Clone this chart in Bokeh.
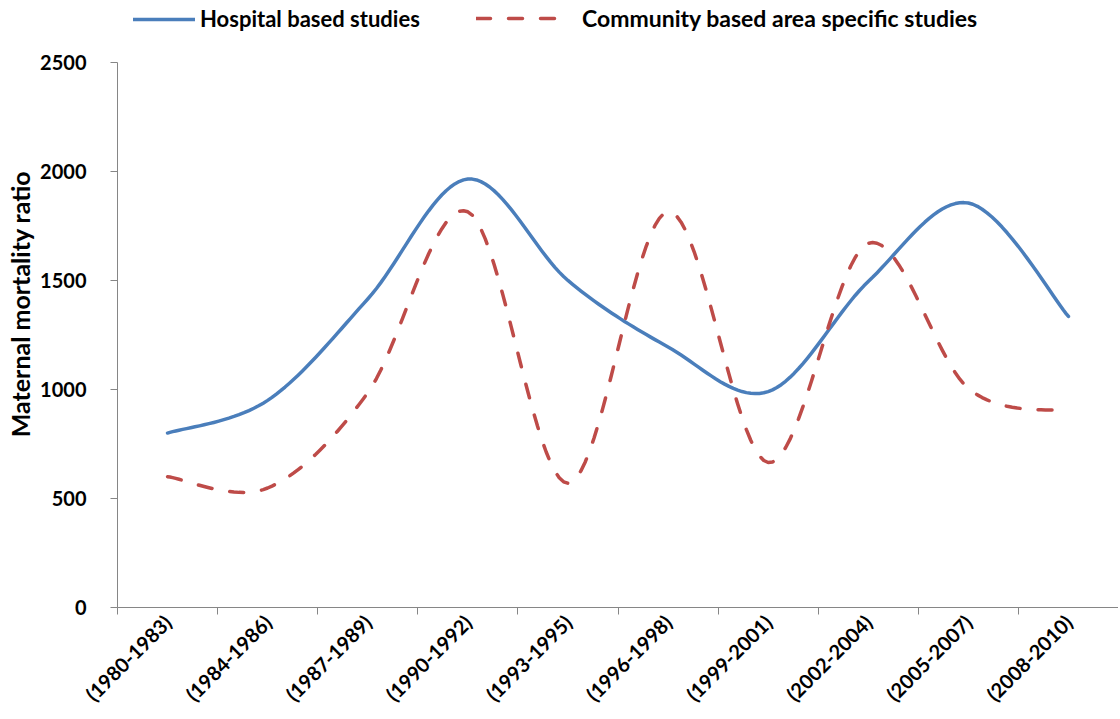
import numpy as np
from bokeh.plotting import figure
from bokeh.models import FixedTicker, Legend, LegendItem, Range1d
from bokeh.embed import file_html
from bokeh.resources import INLINE

periods = ["(1980-1983)", "(1984-1986)", "(1987-1989)", "(1990-1992)", "(1993-1995)",
           "(1996-1998)", "(1999-2001)", "(2002-2004)", "(2005-2007)", "(2008-2010)"]
hospital = [800, 950, 1415, 1965, 1500, 1195, 990, 1495, 1855, 1335]
community = [600, 548, 985, 1815, 570, 1815, 665, 1670, 1005, 900]
y_ticks = [0, 500, 1000, 1500, 2000, 2500]

FONT = "Lato"
BLUE = "#4A7EBB"
RED = "#BE4B48"
AXIS = "#868686"


def smooth(xs, ys, n=24):
    # Excel-like smoothed line: Catmull-Rom converted to cubic Bezier segments
    xs = np.asarray(xs, float)
    ys = np.asarray(ys, float)
    px = np.concatenate([[xs[0]], xs, [xs[-1]]])
    py = np.concatenate([[ys[0]], ys, [ys[-1]]])
    outx, outy = [], []
    t = np.linspace(0, 1, n)
    for i in range(1, len(px) - 2):
        p0x, p0y = px[i], py[i]
        p3x, p3y = px[i + 1], py[i + 1]
        c1x = p0x + (px[i + 1] - px[i - 1]) / 6
        c1y = p0y + (py[i + 1] - py[i - 1]) / 6
        c2x = p3x - (px[i + 2] - px[i]) / 6
        c2y = p3y - (py[i + 2] - py[i]) / 6
        bx = (1 - t) ** 3 * p0x + 3 * (1 - t) ** 2 * t * c1x + 3 * (1 - t) * t ** 2 * c2x + t ** 3 * p3x
        by = (1 - t) ** 3 * p0y + 3 * (1 - t) ** 2 * t * c1y + 3 * (1 - t) * t ** 2 * c2y + t ** 3 * p3y
        if i > 1:
            bx, by = bx[1:], by[1:]
        outx.extend(bx)
        outy.extend(by)
    return outx, outy


centers = [i + 0.5 for i in range(len(periods))]
bounds = list(range(len(periods) + 1))

FRAME_H = 608
# frame spans from the window top to the x axis; the y axis line is bounded to 0..2500
p = figure(width=1118, height=717, output_backend="svg", toolbar_location=None,
           x_range=Range1d(0, len(periods)), y_range=Range1d(0, 2784),
           min_border_left=117, min_border_right=0, min_border_top=0, min_border_bottom=717 - FRAME_H)
p.outline_line_color = None
p.grid.grid_line_color = None
p.background_fill_color = "white"
p.border_fill_color = "white"

hx, hy = smooth(centers, hospital)
cx, cy = smooth(centers, community)
r1 = p.line(hx, hy, line_color=BLUE, line_width=3.5, line_cap="round", line_join="round")
r2 = p.line(cx, cy, line_color=RED, line_width=3.5, line_dash="14 18", line_cap="round", line_join="round")

# x axis
p.xaxis.ticker = FixedTicker(ticks=centers, minor_ticks=bounds)
p.xaxis.major_label_overrides = {c: lab for c, lab in zip(centers, periods)}
p.xaxis.major_tick_line_color = None
p.xaxis.minor_tick_line_color = AXIS
p.xaxis.minor_tick_in = 0
p.xaxis.minor_tick_out = 7
p.xaxis.axis_line_color = AXIS
p.xaxis.major_label_orientation = np.pi / 4
p.xaxis.major_label_text_font = FONT
p.xaxis.major_label_text_font_style = "bold"
p.xaxis.major_label_text_font_size = "20px"
p.xaxis.major_label_text_color = "black"
p.xaxis.major_label_standoff = 4

# y axis
p.yaxis.ticker = FixedTicker(ticks=y_ticks)
p.yaxis.bounds = (0, 2500)
p.yaxis.minor_tick_line_color = None
p.yaxis.major_tick_in = 0
p.yaxis.major_tick_out = 7
p.yaxis.major_tick_line_color = AXIS
p.yaxis.axis_line_color = AXIS
p.yaxis.major_label_text_font = FONT
p.yaxis.major_label_text_font_style = "bold"
p.yaxis.major_label_text_font_size = "20px"
p.yaxis.major_label_text_color = "black"
p.yaxis.major_label_standoff = 24
p.yaxis.axis_label = "Maternal mortality ratio"
p.yaxis.axis_label_text_font = FONT
p.yaxis.axis_label_text_font_style = "bold"
p.yaxis.axis_label_text_font_size = "25px"
p.yaxis.axis_label_text_color = "black"
p.yaxis.axis_label_standoff = 2


def make_legend(item, x, y, gw, size, standoff):
    return Legend(items=[item], location=(x, y), orientation="horizontal",
                  glyph_width=gw, glyph_height=20, label_standoff=standoff, padding=0, margin=0,
                  border_line_color=None, background_fill_alpha=0,
                  label_text_font=FONT, label_text_font_style="bold",
                  label_text_font_size=size, label_text_color="black")


p.add_layout(make_legend(LegendItem(label="Hospital based studies", renderers=[r1]),
                         16, FRAME_H - 33, 62, "22px", 5), "center")
p.add_layout(make_legend(LegendItem(label="Community based area specific studies", renderers=[r2]),
                         359, FRAME_H - 33, 86, "23px", 20), "center")

open("out.html", "w").write(file_html(p, INLINE))
